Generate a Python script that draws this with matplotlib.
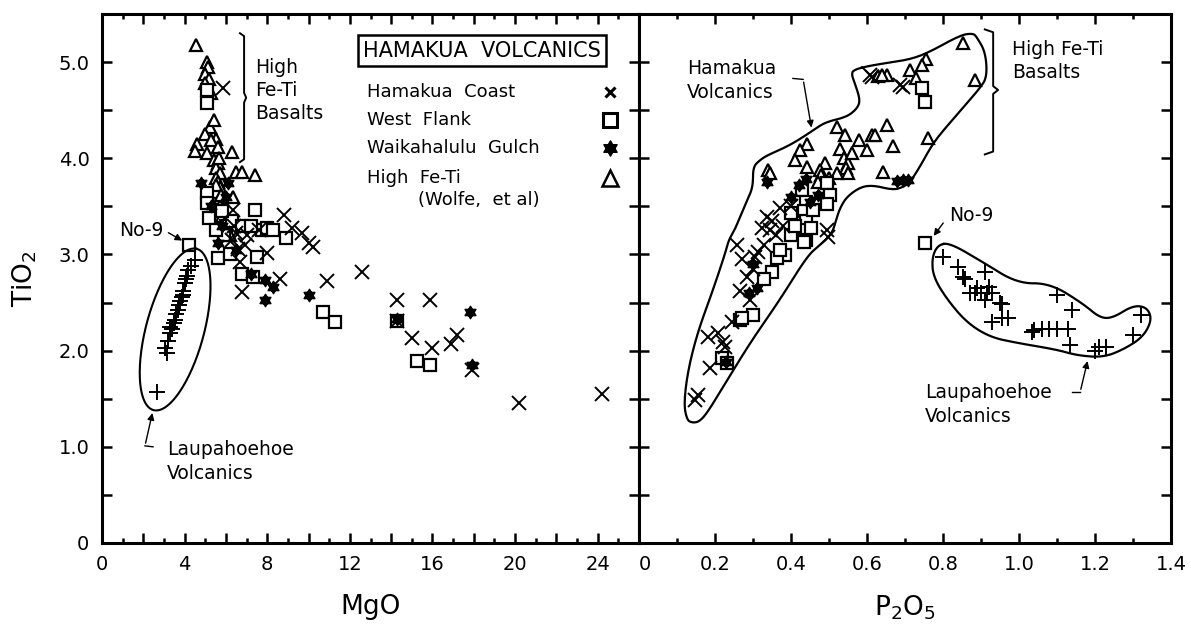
import numpy as np
import matplotlib
matplotlib.use("Agg")
import matplotlib.pyplot as plt
from matplotlib.path import Path
from matplotlib.ticker import MultipleLocator

# ---------------- data (MgO vs TiO2) ----------------
hc_mgo = [5.86, 8.8, 9.2, 9.7, 10.0, 10.2, 8.0, 6.7, 8.6, 10.9, 12.6, 6.8, 14.3, 15.9,
          14.3, 15.0, 16.0, 17.2, 16.9, 17.9, 20.2, 24.2, 6.35, 6.5, 6.9, 6.6, 6.3, 7.0, 6.4, 7.6]
hc_ti1 = [4.73, 3.41, 3.28, 3.22, 3.12, 3.08, 3.01, 2.92, 2.75, 2.72, 2.82, 2.61, 2.53, 2.53,
          2.31, 2.13, 2.03, 2.16, 2.07, 1.80, 1.46, 1.55, 3.46, 3.22, 3.10, 3.06, 3.15, 3.20, 3.30, 3.25]

wf_mgo = [5.1, 5.1, 5.1, 5.1, 5.2, 7.4, 4.2, 5.6, 7.5, 7.75, 8.9, 6.8, 7.3, 10.7, 11.3, 14.3,
          15.25, 15.9, 6.0, 6.3, 6.8, 7.2, 8.0, 8.3, 6.2, 5.9, 5.5, 5.8]
wf_ti1 = [4.57, 4.71, 3.64, 3.53, 3.38, 3.46, 3.10, 2.96, 2.97, 3.25, 3.17, 2.80, 2.77, 2.40, 2.30, 2.31,
          1.89, 1.85, 3.30, 3.35, 3.30, 3.30, 3.28, 3.25, 3.00, 3.20, 3.25, 3.45]

wg_mgo = [4.8, 6.1, 5.6, 7.2, 7.9, 8.3, 7.9, 10.0, 14.3, 17.8, 17.9, 5.3, 5.8, 6.5, 6.0]
wg_ti1 = [3.74, 3.74, 3.12, 2.80, 2.73, 2.66, 2.53, 2.58, 2.33, 2.40, 1.85, 3.50, 3.30, 3.05, 3.60]

hf_mgo = [4.55, 5.1, 5.15, 5.0, 5.2, 5.0, 5.3, 5.25, 5.0, 5.5, 4.6, 4.5, 5.3, 5.6, 6.3, 5.1, 5.4,
          5.6, 5.5, 5.7, 5.5, 5.6, 5.7, 5.5, 5.8, 5.6, 5.7, 5.8, 6.0, 6.5, 6.8, 7.4, 6.35, 5.9, 6.2,
          5.4, 5.65, 5.5, 5.75]
hf_ti1 = [5.18, 5.00, 4.95, 4.88, 4.82, 4.78, 4.68, 4.33, 4.25, 4.20, 4.15, 4.08, 4.19, 4.12, 4.07,
          4.05, 3.98, 3.95, 3.90, 3.85, 3.80, 3.75, 3.70, 3.65, 3.60, 3.55, 3.50, 3.40, 3.35, 3.86,
          3.86, 3.83, 3.60, 3.30, 3.20, 4.40, 4.00, 3.72, 3.62]

lp_mgo = [2.65, 3.05, 3.15, 3.2, 3.3, 3.4, 3.5, 3.55, 3.7, 3.75, 3.8, 3.87, 3.9, 4.0, 4.05, 4.1,
          4.18, 4.3, 4.5, 3.6, 3.3, 3.9]
lp_ti1 = [1.57, 2.03, 1.98, 2.10, 2.18, 2.22, 2.29, 2.32, 2.42, 2.47, 2.52, 2.56, 2.62, 2.70, 2.74,
          2.78, 2.84, 2.88, 2.94, 2.38, 2.25, 2.58]

# ---------------- data (P2O5 vs TiO2) ----------------
hc_p = [0.612, 0.608, 0.687, 0.695, 0.371, 0.337, 0.323, 0.345, 0.258, 0.313, 0.305, 0.495, 0.497,
        0.284, 0.266, 0.292, 0.245, 0.182, 0.208, 0.221, 0.226, 0.187, 0.147, 0.155, 0.35, 0.38,
        0.40, 0.36, 0.30, 0.27, 0.33]
hc_ti2 = [4.85, 4.87, 4.76, 4.74, 3.48, 3.39, 3.28, 3.25, 3.10, 3.03, 2.97, 3.25, 3.18, 2.77, 2.62,
          2.53, 2.30, 2.14, 2.18, 2.09, 2.04, 1.82, 1.49, 1.54, 3.35, 3.30, 3.50, 3.20, 2.85, 2.95, 3.10]

wf_p = [0.745, 0.753, 0.43, 0.44, 0.435, 0.44, 0.435, 0.44, 0.495, 0.503, 0.495, 0.458, 0.40, 0.453,
        0.435, 0.385, 0.364, 0.35, 0.30, 0.266, 0.271, 0.218, 0.232, 0.753, 0.40, 0.41, 0.37, 0.33]
wf_ti2 = [4.73, 4.58, 3.67, 3.55, 3.45, 3.35, 3.25, 3.15, 3.74, 3.62, 3.52, 3.46, 3.43, 3.28, 3.13,
          2.99, 2.96, 2.82, 2.37, 2.32, 2.34, 1.92, 1.87, 3.12, 3.20, 3.30, 3.05, 2.75]

wg_p = [0.68, 0.695, 0.708, 0.337, 0.42, 0.44, 0.40, 0.30, 0.31, 0.29, 0.23, 0.47, 0.45]
wg_ti2 = [3.76, 3.77, 3.77, 3.75, 3.72, 3.78, 3.60, 2.90, 2.65, 2.60, 1.88, 3.62, 3.55]

hf_p = [0.853, 0.884, 0.755, 0.744, 0.713, 0.73, 0.63, 0.652, 0.64, 0.652, 0.612, 0.62, 0.58, 0.60,
        0.668, 0.76, 0.643, 0.52, 0.542, 0.442, 0.424, 0.41, 0.442, 0.34, 0.345, 0.49, 0.476, 0.48,
        0.53, 0.54, 0.55, 0.545, 0.56, 0.55, 0.52, 0.50, 0.47]
hf_ti2 = [5.20, 4.81, 5.03, 4.97, 4.92, 4.83, 4.86, 4.87, 4.87, 4.35, 4.24, 4.24, 4.19, 4.09, 4.13,
          4.21, 3.86, 4.33, 4.24, 4.15, 4.09, 3.98, 3.91, 3.88, 3.85, 3.95, 3.88, 3.83, 4.10, 4.00,
          3.95, 3.90, 4.05, 3.85, 3.85, 3.80, 3.75]

lp_p = [0.80, 0.84, 0.853, 0.858, 0.91, 0.87, 0.885, 0.90, 0.915, 0.93, 0.89, 0.92, 0.91, 0.955,
        0.95, 0.93, 0.955, 0.97, 1.04, 1.06, 1.08, 1.10, 1.13, 1.035, 1.10, 1.14, 1.134, 1.20, 1.21,
        1.23, 1.32, 1.30]
lp_ti2 = [2.97, 2.87, 2.77, 2.75, 2.82, 2.60, 2.60, 2.60, 2.60, 2.60, 2.65, 2.66, 2.53, 2.49, 2.50,
          2.30, 2.34, 2.34, 2.21, 2.22, 2.22, 2.22, 2.23, 2.19, 2.58, 2.42, 2.06, 2.00, 2.04, 2.04,
          2.37, 2.16]

# outlines (annotation shapes, P2O5 / TiO2 units)
ham_outline_p = [0.563, 0.616, 0.705, 0.758, 0.845, 0.879, 0.889, 0.912, 0.916, 0.895, 0.871, 0.818,
                 0.774, 0.739, 0.713, 0.695, 0.668, 0.616, 0.582, 0.547, 0.530, 0.521, 0.511, 0.497,
                 0.476, 0.442, 0.371, 0.292, 0.221, 0.179, 0.158, 0.140, 0.126, 0.118, 0.129, 0.155,
                 0.192, 0.226, 0.236, 0.250, 0.266, 0.283, 0.300, 0.300, 0.318, 0.337, 0.389, 0.432,
                 0.468, 0.495, 0.547, 0.575, 0.582, 0.568, 0.560]
ham_outline_t = [4.92, 4.97, 5.02, 5.09, 5.28, 5.30, 5.26, 5.10, 4.84, 4.72, 4.61, 4.37,
                 4.16, 3.91, 3.75, 3.70, 3.67, 3.72, 3.70, 3.60, 3.49, 3.39, 3.25, 3.17,
                 3.10, 2.98, 2.53, 2.08, 1.62, 1.35, 1.26, 1.25, 1.28, 1.45, 1.80, 2.20,
                 2.60, 3.00, 3.15, 3.24, 3.39, 3.55, 3.70, 3.91, 3.98, 4.03, 4.12, 4.22,
                 4.32, 4.38, 4.43, 4.52, 4.61, 4.78, 4.86]
lau_outline_p = [0.787, 0.818, 0.905, 0.995, 1.082, 1.168, 1.213, 1.247, 1.300, 1.337, 1.350, 1.326,
                 1.274, 1.221, 1.153, 1.100, 0.995, 0.924, 0.863, 0.811, 0.774, 0.771]
lau_outline_t = [3.10, 3.12, 2.92, 2.70, 2.70, 2.49, 2.34, 2.34, 2.47, 2.45, 2.32, 2.14,
                 2.01, 1.93, 1.95, 2.01, 2.08, 2.14, 2.29, 2.53, 2.77, 2.97]

x_ticklabels_left = ["0", "4", "8", "12", "16", "20", "24"]
x_ticklabels_right = ["0", "0.2", "0.4", "0.6", "0.8", "1.0", "1.2", "1.4"]
y_ticklabels = ["0", "1.0", "2.0", "3.0", "4.0", "5.0"]


def smooth_closed(xs, ys, n_iter=3):
    """Chaikin corner cutting for a closed outline (drawing aid only)."""
    pts = np.column_stack([xs, ys]).astype(float)
    for _ in range(n_iter):
        nxt = np.roll(pts, -1, axis=0)
        q = 0.75 * pts + 0.25 * nxt
        r = 0.25 * pts + 0.75 * nxt
        pts = np.empty((2 * len(q), 2))
        pts[0::2] = q
        pts[1::2] = r
    pts = np.vstack([pts, pts[:1]])
    return pts[:, 0], pts[:, 1]


# ---------------- figure ----------------
plt.rcParams['font.family'] = ['DejaVu Sans']
fig = plt.figure(figsize=(11.91, 6.4), dpi=100)
L, R, S = 102 / 1191, 1171 / 1191, 639 / 1191
B, T = 1 - 543 / 640, 1 - 14 / 640
ax1 = fig.add_axes([L, B, S - L, T - B])
ax2 = fig.add_axes([S, B, R - S, T - B])

star_verts = [(0, 1), (-0.866, -0.5), (0.866, -0.5), (0, 1),
              (0, -1), (0.866, 0.5), (-0.866, 0.5), (0, -1)]
star_codes = [Path.MOVETO, Path.LINETO, Path.LINETO, Path.CLOSEPOLY] * 2
star = Path(star_verts, star_codes)

sty_x = dict(ls='none', marker='x', ms=10, mew=1.4, color='black')
sty_sq = dict(ls='none', marker='s', ms=9, mew=1.6, mfc='white', mec='black')
sty_st = dict(ls='none', marker=star, ms=9, mew=1.0, mfc='black', mec='black')
sty_tr = dict(ls='none', marker='^', ms=9, mew=1.6, mfc='white', mec='black')
sty_pl = dict(ls='none', marker='+', ms=11, mew=1.4, color='black')

for ax in (ax1, ax2):
    for sp in ax.spines.values():
        sp.set_linewidth(2.2)
    ax.tick_params(which='both', direction='in', top=True, right=True, width=1.8,
                   labelsize=14, pad=9)
    ax.tick_params(axis='x', which='major', length=7.5)
    ax.tick_params(axis='x', which='minor', length=3.8)
    ax.tick_params(axis='y', which='major', length=7.5)
    ax.set_ylim(0, 5.5)

# ---------- left panel ----------
ax1.plot(hf_mgo, hf_ti1, **sty_tr)
ax1.plot(wf_mgo, wf_ti1, **sty_sq)
ax1.plot(wg_mgo, wg_ti1, **sty_st)
ax1.plot(hc_mgo, hc_ti1, **sty_x)
ax1.plot(lp_mgo, lp_ti1, **sty_pl)
ax1.set_xlim(0, 26)
ax1.set_xticks(np.arange(0, 26, 2))
ax1.set_xticklabels([x_ticklabels_left[i // 2] if i % 2 == 0 else "" for i in range(13)])
ax1.xaxis.set_minor_locator(MultipleLocator(1))
ax1.set_yticks(np.arange(0, 5.51, 0.5))
ax1.set_yticklabels([y_ticklabels[i // 2] if i % 2 == 0 else "" for i in range(12)])
ax1.set_xlabel("MgO", fontsize=19, labelpad=14)
ax1.set_ylabel("TiO$_2$", fontsize=19, labelpad=14)

# Laupahoehoe ellipse (drawn in pixel space, converted to data units)
t = np.linspace(0, 2 * np.pi, 200)
th = np.deg2rad(75)
a_px, b_px = 83.5, 29.0
dx = a_px * np.cos(th) * np.cos(t) - b_px * np.sin(th) * np.sin(t)
dy = a_px * np.sin(th) * np.cos(t) + b_px * np.cos(th) * np.sin(t)
ax1.plot(3.54 + dx / 20.65, 2.22 + dy / 96.2, color='black', lw=1.5)

txt = dict(fontsize=13.5, color='black')
ax1.text(7.4, 5.04, "High\nFe-Ti\nBasalts", ha='left', va='top', linespacing=1.25, **txt)
ax1.plot([6.68, 6.88, 6.88, 6.98, 6.88, 6.88, 6.68],
         [5.30, 5.27, 4.68, 4.63, 4.58, 3.99, 3.96], color='black', lw=1.4)
ax1.text(18.4, 5.12, "HAMAKUA  VOLCANICS", ha='center', va='center', fontsize=15,
         bbox=dict(boxstyle='square,pad=0.25', fc='white', ec='black', lw=1.8))
leg_labels = ["Hamakua  Coast", "West  Flank", "Waikahalulu  Gulch", "High  Fe-Ti"]
leg_y = [4.69, 4.40, 4.11, 3.80]
for lab, yy in zip(leg_labels, leg_y):
    ax1.text(12.83, yy, lab, ha='left', va='center', fontsize=13)
ax1.text(15.3, 3.57, "(Wolfe,  et al)", ha='left', va='center', fontsize=13)
ax1.plot([24.6], [4.69], ls='none', marker='x', ms=7, mew=2.2, color='black')
ax1.plot([24.6], [4.40], ls='none', marker='s', ms=10, mew=2.2, mfc='white', mec='black')
ax1.plot([24.6], [4.11], ls='none', marker=star, ms=11, mew=1.0, mfc='black', mec='black')
ax1.plot([24.6], [3.80], ls='none', marker='^', ms=11, mew=1.8, mfc='white', mec='black')

ax1.annotate("", xy=(4.0, 3.13), xytext=(3.1, 3.24),
             arrowprops=dict(arrowstyle='-|>', color='black', lw=1.0, mutation_scale=10))
ax1.text(1.9, 3.25, "No-9", ha='center', va='center', **txt)
ax1.text(3.15, 1.07, "Laupahoehoe\nVolcanics", ha='left', va='top', linespacing=1.3, **txt)
ax1.plot([2.47, 2.08], [1.00, 1.01], color='black', lw=1.0)
ax1.annotate("", xy=(2.47, 1.38), xytext=(2.08, 1.01),
             arrowprops=dict(arrowstyle='-|>', color='black', lw=1.0, mutation_scale=10))

# ---------- right panel ----------
ax2.plot(hf_p, hf_ti2, **sty_tr)
ax2.plot(wf_p, wf_ti2, **sty_sq)
ax2.plot(wg_p, wg_ti2, **sty_st)
ax2.plot(hc_p, hc_ti2, **sty_x)
ax2.plot(lp_p, lp_ti2, **sty_pl)
ax2.set_xlim(0, 1.4)
ax2.set_xticks(np.arange(0, 1.41, 0.2))
ax2.set_xticklabels(x_ticklabels_right)
ax2.xaxis.set_minor_locator(MultipleLocator(0.1))
ax2.set_yticks(np.arange(0, 5.51, 0.5))
ax2.set_yticklabels([])
ax2.set_xlabel("P$_2$O$_5$", fontsize=19, labelpad=14)
for lab in ax2.get_xticklabels()[:1]:
    lab.set_horizontalalignment('left')

hx, hy = smooth_closed(ham_outline_p, ham_outline_t)
ax2.plot(hx, hy, color='black', lw=1.6)
lx, ly = smooth_closed(lau_outline_p, lau_outline_t)
ax2.plot(lx, ly, color='black', lw=1.6)

ax2.text(0.126, 5.03, "Hamakua\nVolcanics", ha='left', va='top', linespacing=1.3, **txt)
ax2.plot([0.405, 0.432], [4.83, 4.82], color='black', lw=1.0)
ax2.annotate("", xy=(0.455, 4.29), xytext=(0.432, 4.82),
             arrowprops=dict(arrowstyle='-|>', color='black', lw=1.0, mutation_scale=10))
ax2.plot([0.91, 0.932, 0.932, 0.945, 0.932, 0.932, 0.91],
         [5.34, 5.31, 4.75, 4.71, 4.67, 4.07, 4.04], color='black', lw=1.4)
ax2.text(0.982, 5.23, "High Fe-Ti\nBasalts", ha='left', va='top', linespacing=1.3, **txt)
ax2.text(0.815, 3.41, "No-9", ha='left', va='center', **txt)
ax2.annotate("", xy=(0.771, 3.17), xytext=(0.805, 3.35),
             arrowprops=dict(arrowstyle='-|>', color='black', lw=1.0, mutation_scale=10))
ax2.text(0.753, 1.66, "Laupahoehoe\nVolcanics", ha='left', va='top', linespacing=1.3, **txt)
ax2.plot([1.139, 1.161], [1.57, 1.57], color='black', lw=1.0)
ax2.annotate("", xy=(1.182, 1.92), xytext=(1.161, 1.57),
             arrowprops=dict(arrowstyle='-|>', color='black', lw=1.0, mutation_scale=10))

fig.savefig("out.png", dpi=100)
